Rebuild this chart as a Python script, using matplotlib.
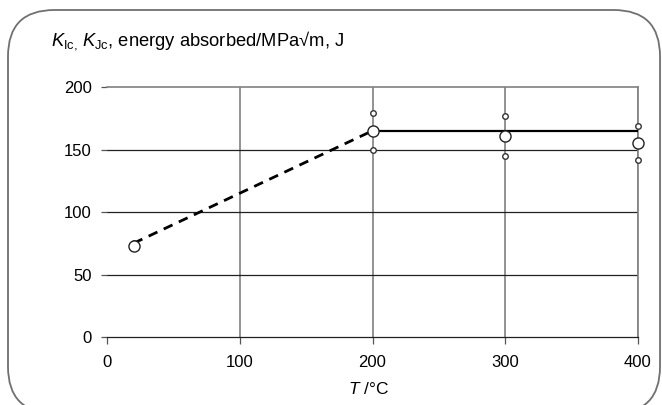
import matplotlib
matplotlib.use('Agg')
import matplotlib.pyplot as plt
from matplotlib.patches import FancyBboxPatch

plt.rcParams['font.family'] = ['Liberation Sans', 'DejaVu Sans']
plt.rcParams['mathtext.fontset'] = 'custom'
plt.rcParams['mathtext.rm'] = 'Liberation Sans'
plt.rcParams['mathtext.it'] = 'Liberation Sans:italic'

# mean values (large circles)
temps = [20, 200, 300, 400]
means = [73, 165, 161, 155]
# scatter values (small circles)
upper = [75, 179, 177, 169]
lower = [74, 150, 145, 142]
# trend lines
dash_x = [20, 200]
dash_y = [75, 165]
solid_x = [200, 400]
solid_y = [165, 165]

xticks = [0, 100, 200, 300, 400]
yticks = [0, 50, 100, 150, 200]

fig = plt.figure(figsize=(6.62, 4.05), dpi=100)
fig.patch.set_facecolor('white')

# rounded frame
frame = FancyBboxPatch((8 / 662, -0.02), (662 - 8) / 662 - 0.003, 1 - 10 / 405 + 0.02,
                       boxstyle='round,pad=0,rounding_size=0.07',
                       transform=fig.transFigure, facecolor='white',
                       edgecolor='#707070', linewidth=1.3,
                       mutation_aspect=662 / 405, zorder=-5)
fig.patches.append(frame)

ax = fig.add_axes([107 / 662, 1 - 337 / 405, (638 - 107) / 662, (337 - 87) / 405])
ax.patch.set_visible(False)
ax.set_xlim(0, 400)
ax.set_ylim(0, 200)
ax.set_xticks(xticks)
ax.set_yticks(yticks)

for x in xticks[1:]:
    ax.axvline(x, color='#808080', lw=1.2, zorder=1)
for y in yticks[1:-1]:
    ax.axhline(y, color='#202020', lw=0.9, zorder=1)

for s in ['top', 'right']:
    ax.spines[s].set_color('#808080')
    ax.spines[s].set_linewidth(1.2)
ax.spines['left'].set_visible(False)
ax.spines['bottom'].set_color('#202020')
ax.spines['bottom'].set_linewidth(0.9)

ax.tick_params(axis='both', direction='out', width=0.9,
               color='#555555', labelsize=12)
ax.tick_params(axis='x', length=5, pad=8)
ax.tick_params(axis='y', length=4, pad=7)

ax.plot(dash_x, dash_y, color='black', lw=2, ls=(0, (3.5, 2.5)), zorder=3)
ax.plot(solid_x, solid_y, color='black', lw=1.6, zorder=3)

ax.plot(temps, upper, 'o', ms=4, mfc='white', mec='#333333', mew=1, zorder=4, clip_on=False)
ax.plot(temps, lower, 'o', ms=4, mfc='white', mec='#333333', mew=1, zorder=4, clip_on=False)
ax.plot(temps, means, 'o', ms=8, mfc='white', mec='#222222', mew=1, zorder=5, clip_on=False)

fig.text(51 / 662, 1 - 41 / 405,
         r'$\mathit{K}_{\mathrm{Ic},}$$\,\mathit{K}_{\mathrm{Jc}}$, energy absorbed/MPa√m, J',
         fontsize=13.2, va='center', ha='left')
ax.set_xlabel(r'$\mathit{T}$ /°C', fontsize=12.5)
ax.xaxis.set_label_coords((369 - 107) / 531, -(389 - 337) / 250)
ax.xaxis.label.set_va('center')

fig.savefig('out.png', dpi=100, facecolor='white')
